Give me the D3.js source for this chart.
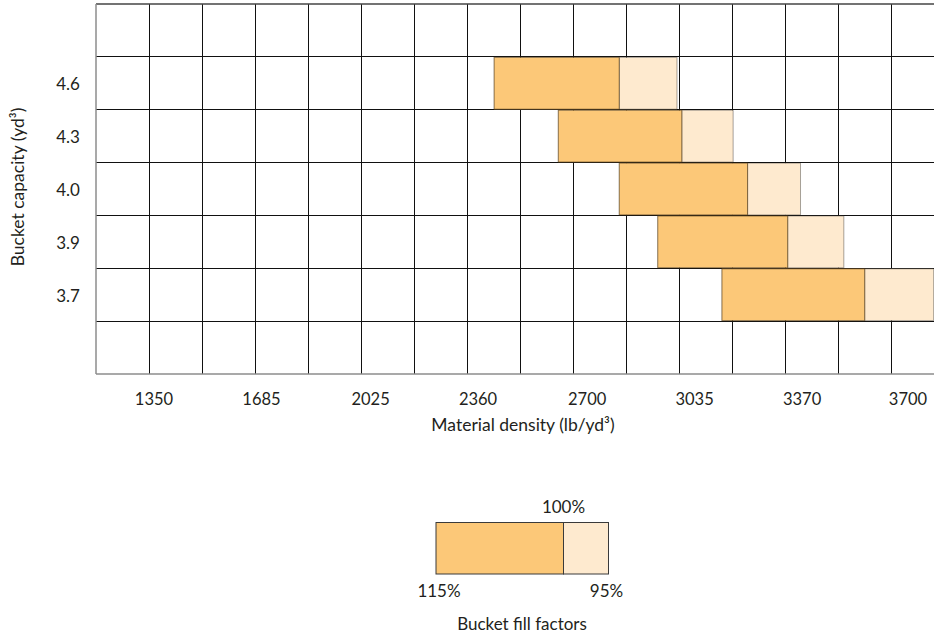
<!DOCTYPE html>
<html>
<head>
<meta charset="utf-8">
<script src="https://cdn.jsdelivr.net/npm/d3@7"></script>
<style>
  body { margin: 0; background: #fff; }
  svg text { font-family: Lato, "Open Sans", sans-serif; fill: #231f20; }
</style>
</head>
<body>
<svg width="934" height="636"></svg>
<script>
// bucket capacity rows (yd3), top to bottom
const capacities = ["4.6", "4.3", "4.0", "3.9", "3.7"];
// material density (lb/yd3) at fill factors 115%, 100%, 95%
const dens115 = [2410, 2610, 2800, 2920, 3120];
const dens100 = [2800, 2995, 3200, 3325, 3565];
const dens95  = [2980, 3155, 3365, 3500, 3780];
const densityTicks = [1350, 1685, 2025, 2360, 2700, 3035, 3370, 3700];
const fillFactors = [1.15, 1.0, 0.95];
const fillLabels = ["115%", "100%", "95%"];

const svg = d3.select("svg");
const plot = {left: 96, top: 4, bottom: 374, right: 944};
const colCount = 16;

const darkFill = "#fcc878", lightFill = "#feeacf";

// density scale, as implied by the tick labels
const x = d3.scaleLinear().domain([1350, 3700]).range([154, 908]);
// grid columns are independent of the density labels
const gx = d3.scaleLinear().domain([0, colCount]).range([plot.left, plot.right]);
const rows = ["top"].concat(capacities, ["bottom"]);
const y = d3.scaleBand().domain(rows).range([plot.top, plot.bottom]);

const g = svg.append("g");

// grid
g.selectAll("line.v")
  .data(d3.range(1, colCount))
  .enter().append("line")
    .attr("x1", d => gx(d) + 0.5).attr("x2", d => gx(d) + 0.5)
    .attr("y1", plot.top).attr("y2", plot.bottom)
    .attr("stroke", "#111").attr("stroke-width", 1.2)
    .attr("shape-rendering", "crispEdges");

g.selectAll("line.h")
  .data(rows.slice(1))
  .enter().append("line")
    .attr("x1", plot.left).attr("x2", plot.right)
    .attr("y1", d => y(d)).attr("y2", d => y(d))
    .attr("stroke", "#111").attr("stroke-width", 1.2)
    .attr("shape-rendering", "crispEdges");

// frame: top dark, left and bottom grey
g.append("line").attr("x1", plot.left).attr("x2", plot.right)
  .attr("y1", plot.top).attr("y2", plot.top)
  .attr("stroke", "#444").attr("stroke-width", 1.3);
g.append("line").attr("x1", plot.left).attr("x2", plot.left)
  .attr("y1", plot.top).attr("y2", plot.bottom)
  .attr("stroke", "#8c8c8c").attr("stroke-width", 1.5);
g.append("line").attr("x1", plot.left).attr("x2", plot.right)
  .attr("y1", plot.bottom).attr("y2", plot.bottom)
  .attr("stroke", "#8c8c8c").attr("stroke-width", 1.5);

// bars
const data = capacities.map((c, i) => ({cap: c, a: dens115[i], b: dens100[i], c2: dens95[i]}));

g.selectAll("rect.light")
  .data(data)
  .enter().append("rect")
    .attr("x", d => x(d.b))
    .attr("y", d => y(d.cap) + 0.5)
    .attr("width", d => x(d.c2) - x(d.b))
    .attr("height", y.bandwidth() - 1)
    .attr("fill", lightFill)
    .attr("stroke", "rgba(0,0,0,0.35)").attr("stroke-width", 1);

g.selectAll("rect.dark")
  .data(data)
  .enter().append("rect")
    .attr("x", d => x(d.a))
    .attr("y", d => y(d.cap) + 0.5)
    .attr("width", d => x(d.b) - x(d.a))
    .attr("height", y.bandwidth() - 1)
    .attr("fill", darkFill)
    .attr("stroke", "rgba(70,50,20,0.65)").attr("stroke-width", 1);

// y labels
g.selectAll("text.ylab")
  .data(capacities)
  .enter().append("text")
    .attr("x", 68)
    .attr("y", d => y(d) + y.bandwidth() / 2)
    .attr("dy", "0.42em")
    .attr("text-anchor", "middle")
    .attr("font-size", 17)
    .text(d => d);

// x labels
g.selectAll("text.xlab")
  .data(densityTicks)
  .enter().append("text")
    .attr("x", d => x(d))
    .attr("y", 404.5)
    .attr("text-anchor", "middle")
    .attr("font-size", 16.5)
    .text(d => d);

svg.append("text")
  .attr("x", 523).attr("y", 431)
  .attr("text-anchor", "middle")
  .attr("font-size", 17.5)
  .text("Material density (lb/yd³)");

svg.append("text")
  .attr("transform", "translate(24,187) rotate(-90)")
  .attr("text-anchor", "middle")
  .attr("font-size", 17.5)
  .text("Bucket capacity (yd³)");

// legend
const lx = d3.scaleLinear().domain(fillFactors).range([436, 563.5, 608.5]);
const legTop = 522.5, legH = 51.5;
svg.append("rect")
  .attr("x", lx(1.0)).attr("y", legTop)
  .attr("width", lx(0.95) - lx(1.0)).attr("height", legH)
  .attr("fill", lightFill).attr("stroke", "#3a3a3a").attr("stroke-width", 1);
svg.append("rect")
  .attr("x", lx(1.15)).attr("y", legTop)
  .attr("width", lx(1.0) - lx(1.15)).attr("height", legH)
  .attr("fill", darkFill).attr("stroke", "#3a3a3a").attr("stroke-width", 1);

svg.selectAll("text.leg")
  .data(fillFactors)
  .enter().append("text")
    .attr("x", d => lx(d) + (d === 1.15 ? 3 : d === 0.95 ? -2 : 0))
    .attr("y", d => d === 1.0 ? 513 : 597)
    .attr("text-anchor", "middle")
    .attr("font-size", 17)
    .text((d, i) => fillLabels[i]);

svg.append("text")
  .attr("x", 522).attr("y", 630)
  .attr("text-anchor", "middle")
  .attr("font-size", 17)
  .text("Bucket fill factors");
</script>
</body>
</html>
